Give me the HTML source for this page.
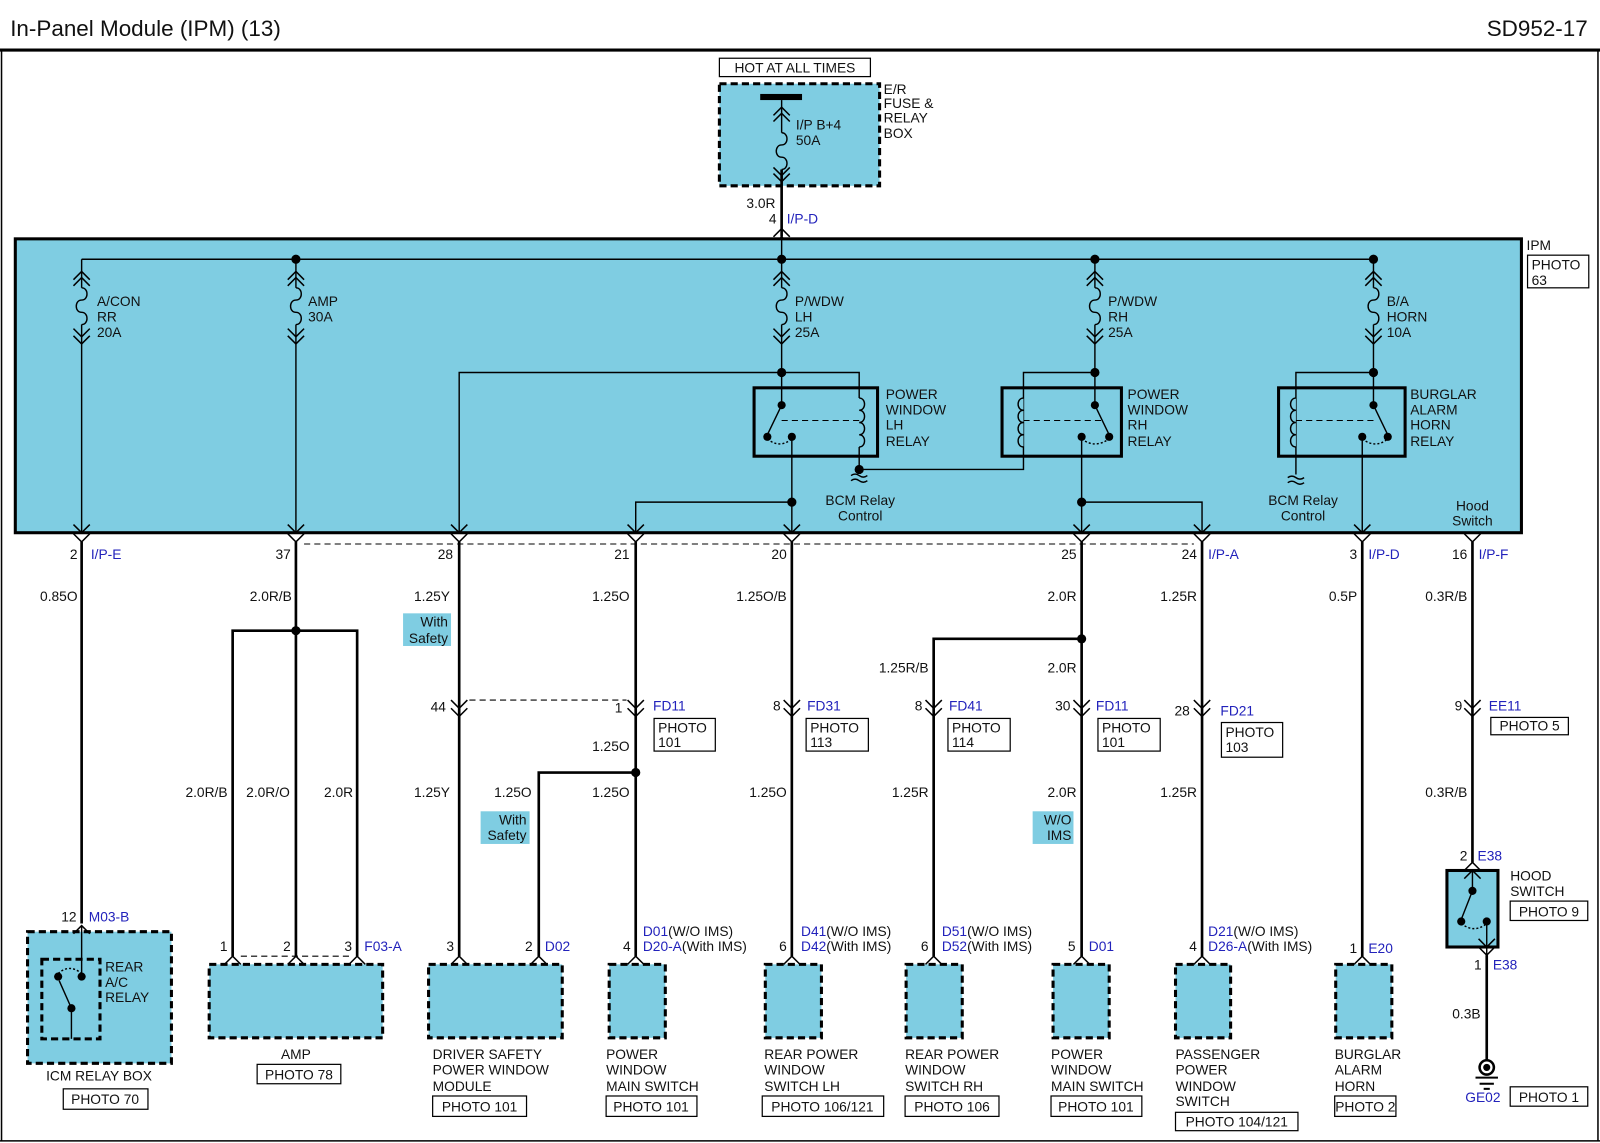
<!DOCTYPE html>
<html><head><meta charset="utf-8"><style>
html,body{margin:0;padding:0;background:#fff;}
svg{display:block;}
text{font-family:"Liberation Sans",sans-serif;font-size:13.5px;fill:#111;}
.b{fill:#2222bb;}
.r{text-anchor:end;}
.m{text-anchor:middle;}
.w{stroke:#000;stroke-width:2.6;fill:none;}
.t{stroke:#000;stroke-width:1.4;fill:none;}
.c{stroke:#000;stroke-width:1.5;fill:none;}
.dash{stroke:#000;stroke-width:1;stroke-dasharray:6,4;fill:none;}
.bx{fill:#fff;stroke:#000;stroke-width:1.2;}
.comp{fill:#7fcde2;stroke:#000;stroke-width:3;stroke-dasharray:7,4;}
.lab{fill:#7fcde2;}
</style></head><body>
<svg width="1600" height="1143" viewBox="0 0 1568 1120" xmlns="http://www.w3.org/2000/svg">
<defs>
<path id="vd" d="M-8,-8 L0,0 L8,-8" fill="none" stroke="#000" stroke-width="1.5"/>
<path id="vu" d="M-8,8 L0,0 L8,8" fill="none" stroke="#000" stroke-width="1.5"/>
<path id="fz" d="M0,0 c7,0 7,12 0,12 c-7,0 -7,12 0,12 c7,0 7,12 0,12" fill="none" stroke="#000" stroke-width="1.4"/>
</defs>
<rect x="0" y="0" width="1568" height="1120" fill="#fff"/>
<!-- header -->
<text x="10" y="35" style="font-size:22px">In-Panel Module (IPM) (13)</text>
<text x="1556" y="35" class="r" style="font-size:22px">SD952-17</text>
<line x1="0" y1="49" x2="1568" y2="49" stroke="#000" stroke-width="3"/>
<line x1="1.5" y1="49" x2="1.5" y2="1118" stroke="#000" stroke-width="1.5"/>
<line x1="1566" y1="49" x2="1566" y2="1118" stroke="#000" stroke-width="1.5"/>
<line x1="0" y1="1118" x2="1568" y2="1118" stroke="#000" stroke-width="1.5"/>

<!-- top fuse box -->
<rect x="705" y="57" width="148" height="18" class="bx"/>
<text x="779" y="71" class="m">HOT AT ALL TIMES</text>
<rect x="705" y="82" width="157" height="100" class="comp"/>
<rect x="745" y="92" width="41" height="6" fill="#000"/>
<line x1="766" y1="98" x2="766" y2="130" class="t"/>
<use href="#vu" x="766" y="105"/><use href="#vu" x="766" y="111"/>
<use href="#fz" x="766" y="130"/>
<line x1="766" y1="166" x2="766" y2="232" class="w"/>
<use href="#vd" x="766" y="172"/><use href="#vd" x="766" y="178"/>
<text x="780" y="127">I/P B+4</text><text x="780" y="142">50A</text>
<text x="866" y="92">E/R</text><text x="866" y="106">FUSE &amp;</text><text x="866" y="120">RELAY</text><text x="866" y="135">BOX</text>
<text x="760" y="204" class="r">3.0R</text>
<text x="761" y="219" class="r">4</text><text x="771" y="219" class="b">I/P-D</text>
<use href="#vu" x="766" y="224"/><use href="#vu" x="766" y="232"/>

<!-- IPM -->
<rect x="15" y="234" width="1476" height="288" fill="#7fcde2" stroke="#000" stroke-width="3"/>
<text x="1496" y="245">IPM</text>
<rect x="1497" y="250" width="60" height="32" class="bx"/>
<text x="1501" y="264">PHOTO</text><text x="1501" y="279">63</text>

<line x1="80" y1="254" x2="1346" y2="254" class="t"/>
<line x1="766" y1="234" x2="766" y2="254" class="t"/>
<!-- fuses -->
<g>
<line x1="80" y1="254" x2="80" y2="282" class="t"/><use href="#fz" x="80" y="282"/><line x1="80" y1="318" x2="80" y2="522" class="t"/>
<use href="#vu" x="80" y="266"/><use href="#vu" x="80" y="272"/><use href="#vd" x="80" y="330"/><use href="#vd" x="80" y="337"/>
<text x="95" y="300">A/CON</text><text x="95" y="315">RR</text><text x="95" y="330">20A</text>

<line x1="290" y1="254" x2="290" y2="282" class="t"/><use href="#fz" x="290" y="282"/><line x1="290" y1="318" x2="290" y2="522" class="t"/>
<use href="#vu" x="290" y="266"/><use href="#vu" x="290" y="272"/><use href="#vd" x="290" y="330"/><use href="#vd" x="290" y="337"/>
<text x="302" y="300">AMP</text><text x="302" y="315">30A</text>

<line x1="766" y1="254" x2="766" y2="282" class="t"/><use href="#fz" x="766" y="282"/><line x1="766" y1="318" x2="766" y2="397" class="t"/>
<use href="#vu" x="766" y="266"/><use href="#vu" x="766" y="272"/><use href="#vd" x="766" y="330"/><use href="#vd" x="766" y="337"/>
<text x="779" y="300">P/WDW</text><text x="779" y="315">LH</text><text x="779" y="330">25A</text>

<line x1="1073" y1="254" x2="1073" y2="282" class="t"/><use href="#fz" x="1073" y="282"/><line x1="1073" y1="318" x2="1073" y2="397" class="t"/>
<use href="#vu" x="1073" y="266"/><use href="#vu" x="1073" y="272"/><use href="#vd" x="1073" y="330"/><use href="#vd" x="1073" y="337"/>
<text x="1086" y="300">P/WDW</text><text x="1086" y="315">RH</text><text x="1086" y="330">25A</text>

<line x1="1346" y1="254" x2="1346" y2="282" class="t"/><use href="#fz" x="1346" y="282"/><line x1="1346" y1="318" x2="1346" y2="397" class="t"/>
<use href="#vu" x="1346" y="266"/><use href="#vu" x="1346" y="272"/><use href="#vd" x="1346" y="330"/><use href="#vd" x="1346" y="337"/>
<text x="1359" y="300">B/A</text><text x="1359" y="315">HORN</text><text x="1359" y="330">10A</text>
</g>
<circle cx="290" cy="254" r="4.5"/><circle cx="766" cy="254" r="4.5"/><circle cx="1073" cy="254" r="4.5"/><circle cx="1346" cy="254" r="4.5"/>

<!-- LH relay -->
<polyline points="450,522 450,365 842,365 842,390" class="t"/>
<path d="M842,390 c7,0 7,12 0,12 c7,0 7,12 0,12 c7,0 7,12 0,12 c7,0 7,12 0,12" class="t"/>
<polyline points="842,438 842,460 1003,460 1003,438" class="t"/>
<circle cx="766" cy="365" r="4.5"/>
<rect x="739" y="380" width="121" height="67" fill="none" stroke="#000" stroke-width="3"/>
<circle cx="766" cy="397" r="4"/><line x1="766" y1="397" x2="752" y2="426" class="t"/><circle cx="752" cy="428" r="4"/>
<circle cx="776" cy="428" r="4"/><path d="M752,430 Q764,440 776,430" class="t" stroke-dasharray="2,2"/>
<line x1="766" y1="412" x2="842" y2="412" class="dash"/>
<line x1="776" y1="428" x2="776" y2="522" class="t"/>
<circle cx="842" cy="460" r="4.5"/>
<path d="M834,466 q4,-3 8,0 q4,3 8,0 M834,471 q4,-3 8,0 q4,3 8,0" class="t"/>
<text x="843" y="495" class="m">BCM Relay</text><text x="843" y="510" class="m">Control</text>
<text x="868" y="391">POWER</text><text x="868" y="406">WINDOW</text><text x="868" y="421">LH</text><text x="868" y="437">RELAY</text>

<!-- RH relay -->
<polyline points="1003,438 1003,365 1073,365" class="t"/>
<path d="M1003,390 c-7,0 -7,12 0,12 c-7,0 -7,12 0,12 c-7,0 -7,12 0,12 c-7,0 -7,12 0,12" fill="#7fcde2" stroke="#000" stroke-width="1.4"/>
<circle cx="1073" cy="365" r="4.5"/>
<rect x="982" y="380" width="117" height="67" fill="none" stroke="#000" stroke-width="3"/>
<circle cx="1073" cy="397" r="4"/><line x1="1073" y1="397" x2="1087" y2="426" class="t"/><circle cx="1087" cy="428" r="4"/>
<circle cx="1060" cy="428" r="4"/><path d="M1060,430 Q1073,440 1087,430" class="t" stroke-dasharray="2,2"/>
<line x1="1003" y1="412" x2="1080" y2="412" class="dash"/>
<line x1="1060" y1="428" x2="1060" y2="522" class="t"/>
<text x="1105" y="391">POWER</text><text x="1105" y="406">WINDOW</text><text x="1105" y="421">RH</text><text x="1105" y="437">RELAY</text>

<!-- burglar relay -->
<polyline points="1346,365 1270,365 1270,465" class="t"/>
<path d="M1270,390 c-7,0 -7,12 0,12 c-7,0 -7,12 0,12 c-7,0 -7,12 0,12 c-7,0 -7,12 0,12" fill="#7fcde2" stroke="#000" stroke-width="1.4"/>
<circle cx="1346" cy="365" r="4.5"/>
<rect x="1253" y="380" width="124" height="67" fill="none" stroke="#000" stroke-width="3"/>
<circle cx="1346" cy="397" r="4"/><line x1="1346" y1="397" x2="1360" y2="426" class="t"/><circle cx="1360" cy="428" r="4"/>
<circle cx="1335" cy="428" r="4"/><path d="M1335,430 Q1348,440 1360,430" class="t" stroke-dasharray="2,2"/>
<line x1="1270" y1="412" x2="1350" y2="412" class="dash"/>
<line x1="1335" y1="428" x2="1335" y2="522" class="t"/>
<path d="M1262,468 q4,-3 8,0 q4,3 8,0 M1262,473 q4,-3 8,0 q4,3 8,0" class="t"/>
<text x="1277" y="495" class="m">BCM Relay</text><text x="1277" y="510" class="m">Control</text>
<text x="1382" y="391">BURGLAR</text><text x="1382" y="406">ALARM</text><text x="1382" y="421">HORN</text><text x="1382" y="437">RELAY</text>
<text x="1443" y="500" class="m">Hood</text><text x="1443" y="515" class="m">Switch</text>

<!-- junctions inside IPM -->
<polyline points="623,522 623,492 776,492" class="t"/><circle cx="776" cy="492" r="4.5"/>
<polyline points="1060,492 1178,492 1178,522" class="t"/><circle cx="1060" cy="492" r="4.5"/>
<line x1="1443" y1="522" x2="1443" y2="510" class="t" opacity="0"/>

<!-- bottom IPM connectors -->
<g>
<use href="#vd" x="80" y="522"/><use href="#vd" x="80" y="531"/>
<use href="#vd" x="290" y="522"/><use href="#vd" x="290" y="531"/>
<use href="#vd" x="450" y="522"/><use href="#vd" x="450" y="531"/>
<use href="#vd" x="623" y="522"/><use href="#vd" x="623" y="531"/>
<use href="#vd" x="776" y="522"/><use href="#vd" x="776" y="531"/>
<use href="#vd" x="1060" y="522"/><use href="#vd" x="1060" y="531"/>
<use href="#vd" x="1178" y="522"/><use href="#vd" x="1178" y="531"/>
<use href="#vd" x="1335" y="522"/><use href="#vd" x="1335" y="531"/>
<use href="#vd" x="1443" y="531"/>
</g>
<line x1="298" y1="533" x2="1170" y2="533" class="dash"/>
<text x="76" y="548" class="r">2</text><text x="89" y="548" class="b">I/P-E</text>
<text x="285" y="548" class="r">37</text>
<text x="444" y="548" class="r">28</text>
<text x="617" y="548" class="r">21</text>
<text x="771" y="548" class="r">20</text>
<text x="1055" y="548" class="r">25</text>
<text x="1173" y="548" class="r">24</text><text x="1184" y="548" class="b">I/P-A</text>
<text x="1330" y="548" class="r">3</text><text x="1341" y="548" class="b">I/P-D</text>
<text x="1438" y="548" class="r">16</text><text x="1449" y="548" class="b">I/P-F</text>

<!-- col 80 -->
<line x1="80" y1="531" x2="80" y2="905" class="w"/>
<text x="76" y="589" class="r">0.85O</text>
<text x="75" y="903" class="r">12</text><text x="87" y="903" class="b">M03-B</text>
<rect x="27" y="913" width="141" height="129" class="comp"/>
<use href="#vu" x="80" y="907"/>
<line x1="80" y1="907" x2="80" y2="957" class="t"/>
<rect x="41" y="940" width="57" height="78" fill="none" stroke="#000" stroke-width="3" stroke-dasharray="7,4"/>
<circle cx="80" cy="957" r="4"/><circle cx="57" cy="957" r="4"/><path d="M57,954 Q68,944 80,954" class="t" stroke-dasharray="2,2"/>
<line x1="70" y1="988" x2="58" y2="961" class="t"/><circle cx="70" cy="988" r="4"/><line x1="70" y1="988" x2="70" y2="1018" class="t"/>
<text x="103" y="952">REAR</text><text x="103" y="967">A/C</text><text x="103" y="982">RELAY</text>
<text x="97" y="1059" class="m">ICM RELAY BOX</text>
<rect x="62" y="1067" width="83" height="20" class="bx"/><text x="103" y="1082" class="m">PHOTO 70</text>

<!-- AMP -->
<line x1="290" y1="531" x2="290" y2="937" class="w"/>
<polyline points="228,937 228,618 350,618 350,937" class="w"/>
<circle cx="290" cy="618" r="4.5"/>
<text x="286" y="589" class="r">2.0R/B</text>
<text x="223" y="781" class="r">2.0R/B</text><text x="284" y="781" class="r">2.0R/O</text><text x="346" y="781" class="r">2.0R</text>
<text x="223" y="932" class="r">1</text><text x="285" y="932" class="r">2</text><text x="345" y="932" class="r">3</text><text x="357" y="932" class="b">F03-A</text>
<line x1="236" y1="937" x2="342" y2="937" class="dash"/>
<rect x="205" y="945" width="170" height="72" class="comp"/>
<use href="#vu" x="228" y="937"/><use href="#vu" x="290" y="937"/><use href="#vu" x="350" y="937"/>
<text x="290" y="1038" class="m">AMP</text>
<rect x="252" y="1043" width="82" height="19" class="bx"/><text x="293" y="1058" class="m">PHOTO 78</text>

<!-- col 450 -->
<line x1="450" y1="531" x2="450" y2="937" class="w"/>
<text x="441" y="589" class="r">1.25Y</text>
<rect x="395" y="601" width="47" height="32" class="lab"/>
<text x="439" y="614" class="r">With</text><text x="439" y="630" class="r">Safety</text>
<use href="#vd" x="450" y="694"/><use href="#vd" x="450" y="702"/>
<text x="437" y="697" class="r">44</text>
<line x1="460" y1="686" x2="614" y2="686" class="dash"/>
<text x="441" y="781" class="r">1.25Y</text>
<polyline points="623,757 528,757 528,937" class="w"/>
<text x="521" y="781" class="r">1.25O</text>
<rect x="471" y="795" width="48" height="32" class="lab"/>
<text x="516" y="808" class="r">With</text><text x="516" y="823" class="r">Safety</text>
<text x="445" y="932" class="r">3</text><text x="522" y="932" class="r">2</text><text x="534" y="932" class="b">D02</text>
<rect x="420" y="945" width="131" height="72" class="comp"/>
<use href="#vu" x="450" y="937"/><use href="#vu" x="528" y="937"/>
<text x="424" y="1038">DRIVER SAFETY</text><text x="424" y="1053">POWER WINDOW</text><text x="424" y="1069">MODULE</text>
<rect x="424" y="1074" width="92" height="20" class="bx"/><text x="470" y="1089" class="m">PHOTO 101</text>

<!-- col 623 -->
<line x1="623" y1="531" x2="623" y2="937" class="w"/>
<circle cx="623" cy="757" r="4.5"/>
<text x="617" y="589" class="r">1.25O</text>
<use href="#vd" x="623" y="694"/><use href="#vd" x="623" y="702"/>
<text x="610" y="698" class="r">1</text><text x="640" y="696" class="b">FD11</text>
<rect x="641" y="704" width="60" height="32" class="bx"/><text x="645" y="718">PHOTO</text><text x="645" y="732">101</text>
<text x="617" y="736" class="r">1.25O</text>
<text x="617" y="781" class="r">1.25O</text>
<text x="618" y="932" class="r">4</text><text x="630" y="917" class="b">D01<tspan style="fill:#111">(W/O IMS)</tspan></text><text x="630" y="932" class="b">D20-A<tspan style="fill:#111">(With IMS)</tspan></text>
<rect x="597" y="945" width="55" height="72" class="comp"/>
<use href="#vu" x="623" y="937"/>
<text x="594" y="1038">POWER</text><text x="594" y="1053">WINDOW</text><text x="594" y="1069">MAIN SWITCH</text>
<rect x="594" y="1074" width="89" height="20" class="bx"/><text x="638" y="1089" class="m">PHOTO 101</text>

<!-- col 776 -->
<line x1="776" y1="531" x2="776" y2="937" class="w"/>
<text x="771" y="589" class="r">1.25O/B</text>
<use href="#vd" x="776" y="694"/><use href="#vd" x="776" y="702"/>
<text x="765" y="696" class="r">8</text><text x="791" y="696" class="b">FD31</text>
<rect x="790" y="704" width="61" height="32" class="bx"/><text x="794" y="718">PHOTO</text><text x="794" y="732">113</text>
<text x="771" y="781" class="r">1.25O</text>
<text x="771" y="932" class="r">6</text><text x="785" y="917" class="b">D41<tspan style="fill:#111">(W/O IMS)</tspan></text><text x="785" y="932" class="b">D42<tspan style="fill:#111">(With IMS)</tspan></text>
<rect x="750" y="945" width="55" height="72" class="comp"/>
<use href="#vu" x="776" y="937"/>
<text x="749" y="1038">REAR POWER</text><text x="749" y="1053">WINDOW</text><text x="749" y="1069">SWITCH LH</text>
<rect x="747" y="1074" width="119" height="20" class="bx"/><text x="806" y="1089" class="m">PHOTO 106/121</text>

<!-- col 1060 / 915 -->
<line x1="1060" y1="531" x2="1060" y2="937" class="w"/>
<polyline points="1060,626 915,626 915,937" class="w"/><circle cx="1060" cy="626" r="4.5"/>
<text x="1055" y="589" class="r">2.0R</text>
<text x="910" y="659" class="r">1.25R/B</text><text x="1055" y="659" class="r">2.0R</text>
<use href="#vd" x="915" y="694"/><use href="#vd" x="915" y="702"/>
<text x="904" y="696" class="r">8</text><text x="930" y="696" class="b">FD41</text>
<rect x="929" y="704" width="61" height="32" class="bx"/><text x="933" y="718">PHOTO</text><text x="933" y="732">114</text>
<use href="#vd" x="1060" y="694"/><use href="#vd" x="1060" y="702"/>
<text x="1049" y="696" class="r">30</text><text x="1074" y="696" class="b">FD11</text>
<rect x="1076" y="704" width="61" height="32" class="bx"/><text x="1080" y="718">PHOTO</text><text x="1080" y="732">101</text>
<text x="910" y="781" class="r">1.25R</text><text x="1055" y="781" class="r">2.0R</text>
<rect x="1012" y="795" width="40" height="32" class="lab"/>
<text x="1050" y="808" class="r">W/O</text><text x="1050" y="823" class="r">IMS</text>
<text x="910" y="932" class="r">6</text><text x="923" y="917" class="b">D51<tspan style="fill:#111">(W/O IMS)</tspan></text><text x="923" y="932" class="b">D52<tspan style="fill:#111">(With IMS)</tspan></text>
<text x="1054" y="932" class="r">5</text><text x="1067" y="932" class="b">D01</text>
<rect x="888" y="945" width="55" height="72" class="comp"/>
<rect x="1032" y="945" width="55" height="72" class="comp"/>
<use href="#vu" x="915" y="937"/><use href="#vu" x="1060" y="937"/>
<text x="887" y="1038">REAR POWER</text><text x="887" y="1053">WINDOW</text><text x="887" y="1069">SWITCH RH</text>
<rect x="887" y="1074" width="92" height="20" class="bx"/><text x="933" y="1089" class="m">PHOTO 106</text>
<text x="1030" y="1038">POWER</text><text x="1030" y="1053">WINDOW</text><text x="1030" y="1069">MAIN SWITCH</text>
<rect x="1030" y="1074" width="89" height="20" class="bx"/><text x="1074" y="1089" class="m">PHOTO 101</text>

<!-- col 1178 -->
<line x1="1178" y1="531" x2="1178" y2="937" class="w"/>
<text x="1173" y="589" class="r">1.25R</text>
<use href="#vd" x="1178" y="694"/><use href="#vd" x="1178" y="702"/>
<text x="1166" y="701" class="r">28</text><text x="1196" y="701" class="b">FD21</text>
<rect x="1197" y="708" width="60" height="34" class="bx"/><text x="1201" y="722">PHOTO</text><text x="1201" y="737">103</text>
<text x="1173" y="781" class="r">1.25R</text>
<text x="1173" y="932" class="r">4</text><text x="1184" y="917" class="b">D21<tspan style="fill:#111">(W/O IMS)</tspan></text><text x="1184" y="932" class="b">D26-A<tspan style="fill:#111">(With IMS)</tspan></text>
<rect x="1152" y="945" width="54" height="72" class="comp"/>
<use href="#vu" x="1178" y="937"/>
<text x="1152" y="1038">PASSENGER</text><text x="1152" y="1053">POWER</text><text x="1152" y="1069">WINDOW</text><text x="1152" y="1084">SWITCH</text>
<rect x="1152" y="1090" width="120" height="18" class="bx"/><text x="1212" y="1104" class="m">PHOTO 104/121</text>

<!-- col 1335 -->
<line x1="1335" y1="531" x2="1335" y2="937" class="w"/>
<text x="1330" y="589" class="r">0.5P</text>
<text x="1330" y="934" class="r">1</text><text x="1341" y="934" class="b">E20</text>
<rect x="1309" y="945" width="55" height="72" class="comp"/>
<use href="#vu" x="1335" y="937"/>
<text x="1308" y="1038">BURGLAR</text><text x="1308" y="1053">ALARM</text><text x="1308" y="1069">HORN</text>
<rect x="1308" y="1074" width="60" height="20" class="bx"/><text x="1338" y="1089" class="m">PHOTO 2</text>

<!-- col 1443 hood -->
<line x1="1443" y1="531" x2="1443" y2="845" class="w"/>
<text x="1438" y="589" class="r">0.3R/B</text>
<use href="#vd" x="1443" y="694"/><use href="#vd" x="1443" y="702"/>
<text x="1433" y="696" class="r">9</text><text x="1459" y="696" class="b">EE11</text>
<rect x="1461" y="703" width="76" height="17" class="bx"/><text x="1499" y="716" class="m">PHOTO 5</text>
<text x="1438" y="781" class="r">0.3R/B</text>
<text x="1438" y="843" class="r">2</text><text x="1448" y="843" class="b">E38</text>
<rect x="1418" y="853" width="50" height="75" fill="#7fcde2" stroke="#000" stroke-width="3"/>
<use href="#vu" x="1443" y="845"/><use href="#vu" x="1443" y="853"/>
<line x1="1443" y1="853" x2="1443" y2="873" class="t"/>
<circle cx="1443" cy="873" r="4"/><line x1="1443" y1="873" x2="1432" y2="901" class="t"/>
<circle cx="1432" cy="903" r="4"/><circle cx="1457" cy="903" r="4"/>
<path d="M1432,905 Q1445,915 1457,905" class="t" stroke-dasharray="2,2"/>
<line x1="1457" y1="903" x2="1457" y2="936" class="t"/>
<use href="#vd" x="1457" y="928"/><use href="#vd" x="1457" y="936"/>
<line x1="1457" y1="936" x2="1457" y2="1040" class="w"/>
<text x="1480" y="863">HOOD</text><text x="1480" y="878">SWITCH</text>
<rect x="1480" y="883" width="76" height="19" class="bx"/><text x="1518" y="898" class="m">PHOTO 9</text>
<text x="1452" y="950" class="r">1</text><text x="1463" y="950" class="b">E38</text>
<text x="1451" y="998" class="r">0.3B</text>
<circle cx="1457" cy="1046" r="7" fill="#fff" stroke="#000" stroke-width="2.5"/><circle cx="1457" cy="1046" r="3.5"/>
<line x1="1446" y1="1056" x2="1468" y2="1056" stroke="#000" stroke-width="2"/>
<line x1="1450" y1="1062" x2="1464" y2="1062" stroke="#000" stroke-width="2"/>
<line x1="1454" y1="1067" x2="1460" y2="1067" stroke="#000" stroke-width="2"/>
<text x="1436" y="1080" class="b">GE02</text>
<rect x="1480" y="1065" width="76" height="19" class="bx"/><text x="1518" y="1080" class="m">PHOTO 1</text>
</svg>
</body></html>
